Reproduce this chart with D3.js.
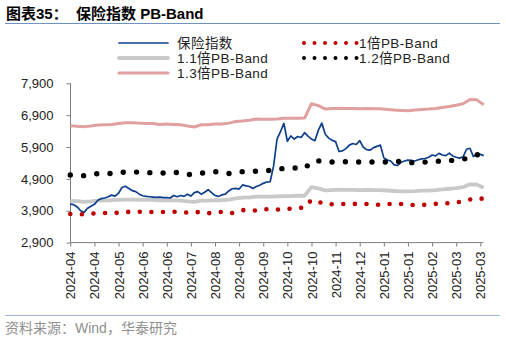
<!DOCTYPE html>
<html><head><meta charset="utf-8">
<script src="https://cdn.jsdelivr.net/npm/d3@7/dist/d3.min.js"></script>
<style>body{margin:0;background:#fff}svg{display:block}</style>
</head><body><svg id="c" width="506" height="340"></svg>
<script>
// ---- data ----
const tickLabels = ["2024-04","2024-04","2024-05","2024-06","2024-06","2024-07","2024-08","2024-08","2024-09","2024-10","2024-10","2024-11","2024-12","2025-01","2025-01","2025-02","2025-03","2025-03"];
const yTicks = [2900,3900,4900,5900,6900,7900];
const TICK_EVERY = 14;      // trading days between axis labels
const STEP_INDEX = 2;       // sampling step (trading days) of index series
const STEP_BAND = 4;        // sampling step (trading days) of PB bands

const indexValues = [4110,4090,4020,3900,3850,3980,4040,4100,4230,4280,4300,4340,4390,4360,4450,4630,4670,4600,4530,4500,
4420,4370,4350,4340,4330,4320,4330,4310,4310,4300,4380,4340,4380,4350,4420,4360,4470,4500,4420,4480,
4560,4470,4380,4350,4400,4420,4520,4590,4600,4580,4710,4680,4660,4600,4660,4700,4760,4800,4810,5300,
6150,6380,6640,6080,6250,6150,6230,6200,6350,6240,6150,6100,6430,6650,6300,6180,6110,6070,5760,5780,
5850,5960,6010,5980,6100,5900,5820,5800,5880,5920,5960,5560,5490,5460,5340,5320,5420,5460,5490,5480,
5460,5500,5530,5540,5580,5650,5620,5700,5650,5630,5710,5620,5580,5550,5590,5830,5860,5600,5700,5670,5630];

const band10 = [3800,3795,3790,3810,3825,3830,3830,3835,3860,3870,3870,3865,3860,3860,3865,3870,3855,3840,3860,3850,
3820,3850,3860,3810,3850,3920,3905,3910,3950,3940,3935,3950,3965,3985,3995,4240,4180,4100,4105,4105,
4112,4115,4115,4110,4100,4085,4100,4135,4110,4085,4075,4080,4095,4115,4130,4140,4160,4200,4250,4300,4270];

const band11 = [4210,4200,4180,4195,4215,4225,4230,4240,4250,4250,4245,4240,4240,4225,4230,4225,4220,4195,4180,4220,
4220,4230,4230,4250,4290,4310,4320,4340,4340,4340,4350,4360,4360,4370,4370,4640,4600,4540,4550,4560,
4555,4555,4550,4555,4550,4545,4535,4520,4510,4505,4515,4530,4535,4550,4570,4590,4610,4640,4730,4720,4620];

const band12 = [5020,5010,5000,5035,5065,5065,5068,5100,5115,5115,5112,5100,5092,5080,5085,5110,5090,5035,5040,5080,
5105,5125,5095,5068,5100,5128,5138,5140,5140,5170,5200,5230,5250,5235,5225,5440,5465,5450,5430,5435,
5440,5435,5430,5430,5430,5430,5433,5445,5445,5415,5405,5420,5435,5450,5465,5475,5490,5515,5570,5660,5630];

const band13 = [6570,6550,6540,6560,6590,6600,6610,6640,6660,6660,6650,6640,6640,6610,6620,6610,6600,6560,6530,6600,
6600,6620,6620,6650,6700,6720,6740,6780,6770,6770,6780,6800,6800,6800,6810,7260,7200,7090,7110,7120,
7110,7110,7100,7110,7100,7100,7080,7060,7050,7040,7060,7080,7090,7110,7140,7170,7210,7260,7390,7380,7230];

const seriesNames = ["保险指数","1倍PB-Band","1.1倍PB-Band","1.2倍PB-Band","1.3倍PB-Band"];

// ---- drawing ----
const svg = d3.select("#c");
const FONT = "'Liberation Sans', Arial, 'Noto Sans CJK SC', sans-serif";
const lastTick = TICK_EVERY * (tickLabels.length - 1);
const x = d3.scaleLinear().domain([0, lastTick]).range([70.3, 480.3]);
const y = d3.scaleLinear().domain([2900, 7900]).range([242.6, 83.3]);

// header
svg.append("text").attr("x", 6).attr("y", 19)
  .attr("font-family", FONT).attr("font-size", 15).attr("font-weight", "bold").attr("fill", "#000")
  .style("white-space", "pre")
  .text("图表35：  保险指数 PB-Band");
svg.append("line").attr("x1", 5).attr("x2", 500).attr("y1", 23.5).attr("y2", 23.5)
  .attr("stroke", "#6d93c4").attr("stroke-width", 1);

// footer
svg.append("line").attr("x1", 5).attr("x2", 500).attr("y1", 315.5).attr("y2", 315.5)
  .attr("stroke", "#9db6d8").attr("stroke-width", 1);
svg.append("text").attr("x", 5).attr("y", 332.5)
  .attr("font-family", FONT).attr("font-size", 14).attr("fill", "#8f8f8f")
  .text("资料来源：Wind，华泰研究");

// axes
const yAxis = d3.axisLeft(y).tickValues(yTicks).tickFormat(d3.format(",")).tickSize(4).tickPadding(13);
const gy = svg.append("g").attr("transform", "translate(70.5,0)").call(yAxis);
gy.selectAll("text").attr("font-family", FONT).attr("font-size", 13).attr("fill", "#222");
gy.selectAll("line,path").attr("stroke", "#7f7f7f");
gy.select(".domain").attr("d", `M0,${y(7900)}V${y(2900)}`);

const xTickVals = tickLabels.map((_, i) => i * TICK_EVERY);
const xAxis = d3.axisBottom(x).tickValues(xTickVals).tickFormat((d, i) => tickLabels[i]).tickSize(4).tickSizeOuter(0);
const gx = svg.append("g").attr("transform", "translate(0,242.6)").call(xAxis);
gx.selectAll("line,path").attr("stroke", "#7f7f7f");
gx.select(".domain").attr("d", `M70.5,0H${x(lastTick) + 3}`);
gx.selectAll("text").attr("font-family", FONT).attr("font-size", 13).attr("fill", "#222")
  .attr("transform", "rotate(-90)").attr("text-anchor", "end")
  .attr("x", -9).attr("y", 0).attr("dy", "0.35em");

// series
const lineOf = step => d3.line().x((d, i) => x(i * step)).y(d => y(d));
const plot = svg.append("g");
plot.append("path").datum(band11).attr("d", lineOf(STEP_BAND)).attr("fill", "none")
  .attr("stroke", "#c9c9c9").attr("stroke-width", 3.8).attr("stroke-linejoin", "round");
plot.append("path").datum(band13).attr("d", lineOf(STEP_BAND)).attr("fill", "none")
  .attr("stroke", "#e0a0a0").attr("stroke-width", 3).attr("stroke-linejoin", "round");
plot.append("path").datum(indexValues).attr("d", lineOf(STEP_INDEX)).attr("fill", "none")
  .attr("stroke", "#0d3f8c").attr("stroke-width", 1.7).attr("stroke-linejoin", "round");
plot.append("path").datum(band10).attr("d", lineOf(STEP_BAND)).attr("fill", "none")
  .attr("stroke", "#c00000").attr("stroke-width", 4.6).attr("stroke-linecap", "round").attr("stroke-dasharray", "0 11.6");
plot.append("path").datum(band12).attr("d", lineOf(STEP_BAND)).attr("fill", "none")
  .attr("stroke", "#000").attr("stroke-width", 5.4).attr("stroke-linecap", "round").attr("stroke-dasharray", "0 13.3");

// legend
const legendItems = [
  {name: seriesNames[0], x: 119, y: 43, color: "#0d3f8c", w: 1.7},
  {name: seriesNames[2], x: 119, y: 58, color: "#c9c9c9", w: 3.8},
  {name: seriesNames[4], x: 119, y: 73, color: "#e0a0a0", w: 3},
  {name: seriesNames[1], x: 304, y: 43, color: "#c00000", w: 4, dots: true},
  {name: seriesNames[3], x: 304, y: 58, color: "#000", w: 4, dots: true}
];
const lg = svg.append("g");
legendItems.forEach(it => {
  const len = it.dots ? 53 : 49;
  lg.append("line").attr("x1", it.x).attr("x2", it.x + len).attr("y1", it.y).attr("y2", it.y)
    .attr("stroke", it.color).attr("stroke-width", it.w)
    .attr("stroke-linecap", "round")
    .attr("stroke-dasharray", it.dots ? "0 10.5" : null);
  lg.append("text").attr("x", it.x + (it.dots ? 55 : 58)).attr("y", it.y).attr("dy", "0.36em")
    .attr("font-family", FONT).attr("font-size", 13.5).attr("letter-spacing", 0.45)
    .attr("fill", "#222").text(it.name);
});
</script></body></html>
